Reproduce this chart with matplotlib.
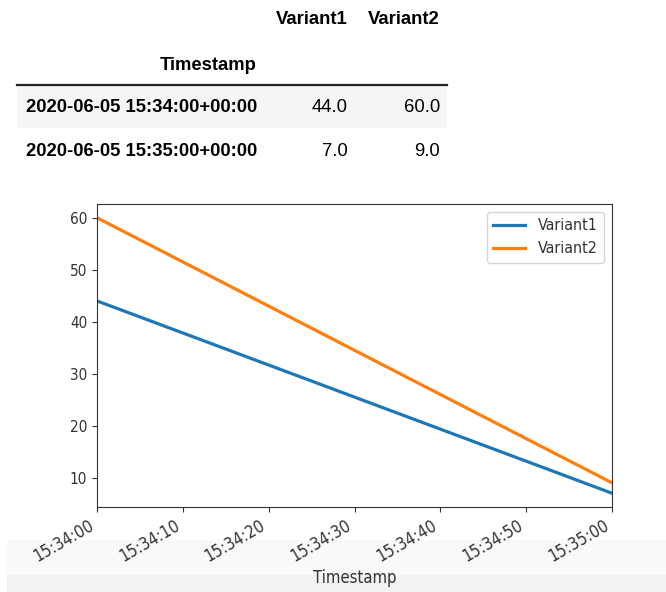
import pandas as pd
import matplotlib.pyplot as plt
import matplotlib.dates as mdates
from matplotlib.patches import Rectangle

W, H = 666, 592

timestamps = ['2020-06-05 15:34:00+00:00', '2020-06-05 15:35:00+00:00']
variant1 = [44.0, 7.0]
variant2 = [60.0, 9.0]
columns = ['Variant1', 'Variant2']
index_name = 'Timestamp'

fig = plt.figure(figsize=(W / 100, H / 100), dpi=100)


def px(x, y):
    # pixel coords (top-left origin) -> figure fraction
    return x / W, 1 - y / H


tf = fig.transFigure

# notebook output band at bottom (behind everything)
fig.patches.append(Rectangle(px(7, 575), (W - 7) / W, 35 / H, transform=tf,
                             facecolor='#f9f9f9', edgecolor='none', zorder=-5))
fig.patches.append(Rectangle(px(7, 592), (W - 7) / W, 17 / H, transform=tf,
                             facecolor='#f2f2f2', edgecolor='none', zorder=-5))

# --- dataframe html table ---
fig.patches.append(Rectangle(px(17, 128), 430 / W, 42 / H, transform=tf,
                             facecolor='#f5f5f5', edgecolor='none', zorder=-5))
fig.add_artist(plt.Line2D([17 / W, 447 / W], [1 - 85 / H] * 2, transform=tf,
                          color='#222222', lw=1.6))

fs = 13.3
tkw = dict(fontsize=fs, fontweight='bold', va='center', ha='right', family='Liberation Sans')
vkw = dict(fontsize=fs, va='center', ha='right', family='Liberation Sans')
fig.text(*px(348, 20), columns[0], **tkw)
fig.text(*px(440, 20), columns[1], **tkw)
fig.text(*px(257, 65), index_name, **tkw)

row_y = [107, 151]
for ts, v1, v2, y in zip(timestamps, variant1, variant2, row_y):
    fig.text(*px(257, y), ts, **tkw)
    fig.text(*px(348, y), f'{v1:.1f}', **vkw)
    fig.text(*px(440, y), f'{v2:.1f}', **vkw)

# --- line plot ---
plt.rcParams['font.family'] = ['DejaVu Sans']
plt.rcParams['font.stretch'] = 'condensed'
ax = fig.add_axes([97 / W, 1 - 507 / H, 515 / W, 303 / H])
t = pd.to_datetime(timestamps)
ax.plot(t, variant1, label=columns[0], color='#1f77b4', lw=2.3)
ax.plot(t, variant2, label=columns[1], color='#ff7f0e', lw=2.3)
ax.set_xlim(t[0], t[-1])
ax.xaxis.set_major_locator(mdates.SecondLocator(bysecond=range(0, 60, 10)))
ax.xaxis.set_major_formatter(mdates.DateFormatter('%H:%M:%S'))
ax.set_yticks([10, 20, 30, 40, 50, 60])
ax.tick_params(labelsize=11, labelcolor='#333333', color='#333333')
ax.tick_params(axis='x', labelsize=12)
for s in ax.spines.values():
    s.set_color('#333333')
for lab in ax.get_xticklabels():
    lab.set_rotation(30)
    lab.set_ha('right')
ax.set_xlabel(index_name, fontsize=12, color='#333333', labelpad=2)
leg = ax.legend(fontsize=11.5, loc='upper right')
for txt in leg.get_texts():
    txt.set_color('#333333')

fig.savefig('out.png', dpi=100)
